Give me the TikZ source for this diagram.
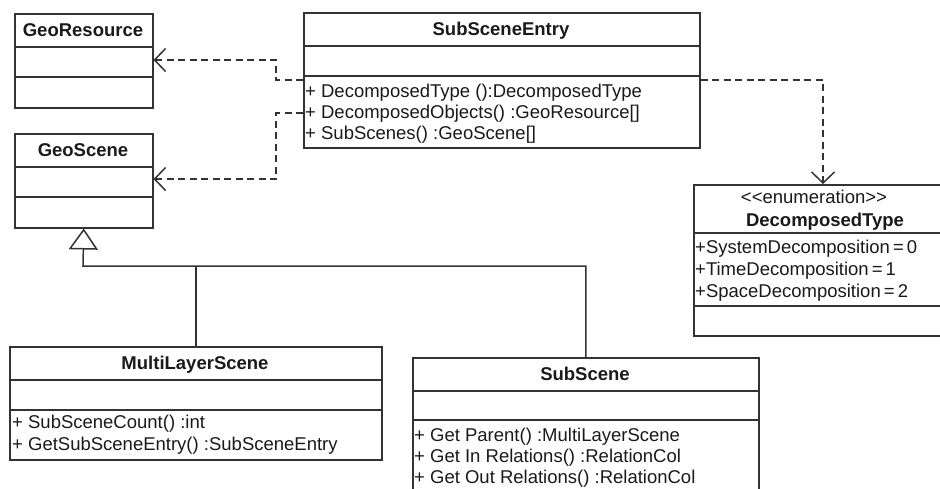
\documentclass[tikz,border=0pt]{standalone}
\usepackage{fontspec}
\setmainfont{Liberation Sans}
\usetikzlibrary{arrows.meta}
\definecolor{linecol}{HTML}{333333}
\definecolor{txtcol}{HTML}{1A1A1A}
\begin{document}
\begin{tikzpicture}[x=1pt,y=-1pt,
  box/.style={draw=linecol,line width=1.5pt,fill=white,inner sep=0pt,anchor=north west},
  divider/.style={draw=linecol,line width=1.5pt},
  title/.style={font=\bfseries\fontsize{18.5}{21}\selectfont,text=txtcol,anchor=base,inner sep=0pt},
  member/.style={font=\fontsize{18.5}{21}\selectfont,text=txtcol,anchor=base west,inner sep=0pt},
  stereo/.style={font=\fontsize{18.5}{21}\selectfont,text=txtcol,anchor=base,inner sep=0pt},
  dep/.style={draw=linecol,line width=1.5pt,dash pattern=on 7pt off 4.5pt,-{Straight Barb[length=11pt,width=23pt,line width=1.5pt]}},
  gen/.style={draw=linecol,line width=1.5pt,-{Triangle[open,fill=white,length=21pt,width=29pt,line width=1.5pt]}},
  solidline/.style={draw=linecol,line width=1.5pt}]
\clip (0,0) rectangle (940,488);
\fill[white] (0,0) rectangle (940,488);

% GeoResource
\node[box,minimum width=138pt,minimum height=94pt] (geores) at (14,13) {};
\draw[divider] (14,47) -- (152,47);
\draw[divider] (14,77) -- (152,77);
\node[title] (geoT) at (83,36) {GeoResource};

% GeoScene
\node[box,minimum width=138pt,minimum height=94pt] (geoscene) at (14,133) {};
\draw[divider] (14,167) -- (152,167);
\draw[divider] (14,197) -- (152,197);
\node[title] (gsT) at (83,156) {GeoScene};

% SubSceneEntry
\node[box,minimum width=396pt,minimum height=135pt] (sse) at (303,12) {};
\draw[divider] (303,46) -- (699,46);
\draw[divider] (303,76) -- (699,76);
\node[title] (sseT) at (501,35) {SubSceneEntry};
\node[member] (sseM1) at (305,97) {+ DecomposedType ():DecomposedType};
\node[member] (sseM2) at (305,118) {+ DecomposedObjects() :GeoResource[]};
\node[member] (sseM3) at (305,139) {+ SubScenes() :GeoScene[]};

% DecomposedType
\node[box,minimum width=253pt,minimum height=151pt] (dectype) at (693,184) {};
\draw[divider] (693,233) -- (946,233);
\draw[divider] (693,306) -- (946,306);
\node[stereo] (dtS) at (814,203) {<{}<enumeration>{}>};
\node[title] (dtT) at (825,226) {DecomposedType};
\node[member] (dtM1) at (695,253) {+SystemDecomposition\,=\,0};
\node[member] (dtM2) at (695,275) {+TimeDecomposition\,=\,1};
\node[member] (dtM3) at (695,297) {+SpaceDecomposition\,=\,2};

% MultiLayerScene
\node[box,minimum width=372pt,minimum height=113pt] (multi) at (9,346) {};
\draw[divider] (9,380) -- (381,380);
\draw[divider] (9,410) -- (381,410);
\node[title] (mlT) at (195,369) {MultiLayerScene};
\node[member] (mlM1) at (12,428) {+ SubSceneCount() :int};
\node[member] (mlM2) at (12,450) {+ GetSubSceneEntry() :SubSceneEntry};

% SubScene
\node[box,minimum width=346pt,minimum height=160pt] (subscene) at (412,357) {};
\draw[divider] (412,391) -- (758,391);
\draw[divider] (412,420) -- (758,420);
\node[title] (ssT) at (585,380) {SubScene};
\node[member] (ssM1) at (414,441) {+ Get Parent() :MultiLayerScene};
\node[member] (ssM2) at (414,462) {+ Get In Relations() :RelationCol};
\node[member] (ssM3) at (414,483) {+ Get Out Relations() :RelationCol};

% dependencies
\draw[dep] (sse.west |- 0,80) -- (276,80) |- (geores.east |- 0,60);
\draw[dep] (sse.west |- 0,113) -- (276,113) |- (geoscene.east |- 0,179);
\draw[dep] (sse.east |- 0,80) -| (dectype.north -| 823,0);

% generalization
\coordinate (junction) at (83,266);
\draw[solidline] (multi.north) -- (multi.north |- junction);
\draw[gen] (subscene.north) |- (junction) -- (geoscene.south);
\end{tikzpicture}
\end{document}
